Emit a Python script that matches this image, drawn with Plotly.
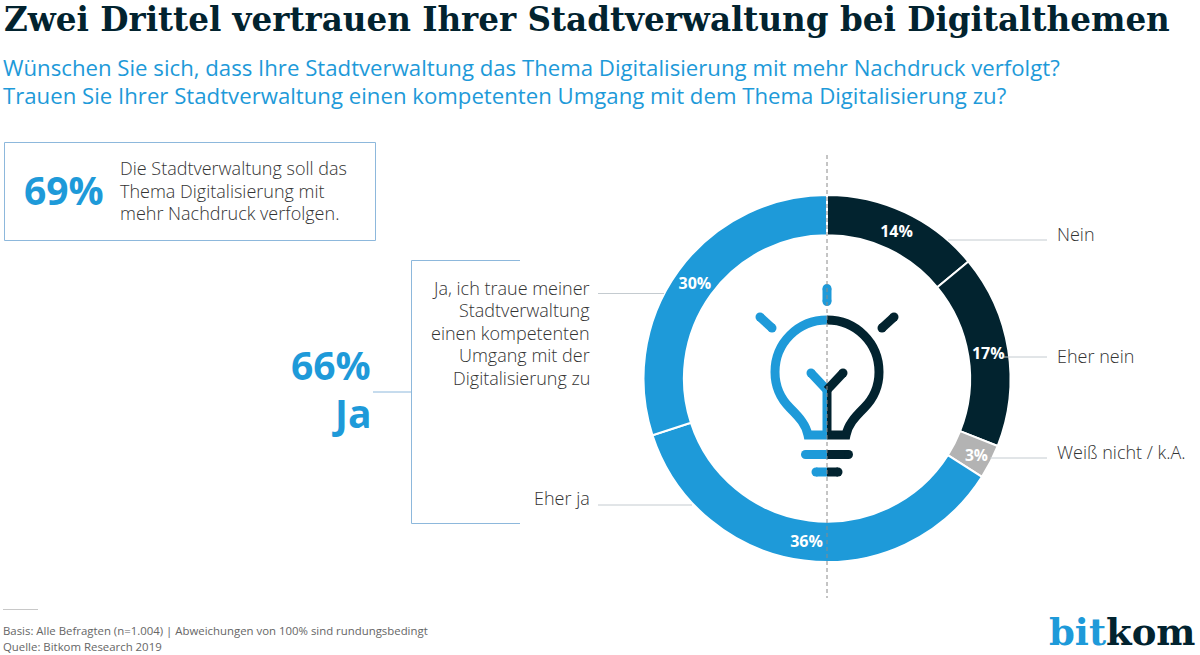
"""Bitkom donut chart: trust in city administration on digital topics"""
import plotly.graph_objects as go

# data
answers = ['Nein', 'Eher nein', 'Weiß nicht / k.A.', 'Eher ja', 'Ja, ich traue meiner Stadtverwaltung']
shares = [14, 17, 3, 36, 30]

BLUE = '#1e9ad9'
DARK = '#02232f'
GREY = '#b3b3b3'
LINE = '#c4cbd0'
TEXT = '#333333'
FRAME = '#8db8dc'
SANS = 'Open Sans'
SLAB = 'DejaVu Serif'

slice_colors = [DARK, DARK, GREY, BLUE, BLUE]

fig = go.Figure()

# Donut, placed to the pixel through its domain
fig.add_trace(go.Pie(labels=answers, values=shares, hole=0.78, sort=False, direction='clockwise',
                     rotation=0, domain=dict(x=[643 / 1200, 1011 / 1200], y=[93 / 655, 460 / 655]),
                     marker=dict(colors=slice_colors, line=dict(color='white', width=2)),
                     text=[f'{v}%' for v in shares], textinfo='text', textposition='inside',
                     insidetextorientation='horizontal',
                     insidetextfont=dict(family=SANS, size=16, color='white', weight='bold'),
                     hoverinfo='label+percent', showlegend=False))

shapes = []


def line(x0, y0, x1, y1, color=LINE, width=1, dash=None):
    shapes.append(dict(type='line', x0=x0, y0=y0, x1=x1, y1=y1, layer='above',
                       line=dict(color=color, width=width, dash=dash)))


def dot(x, y, r, color):
    shapes.append(dict(type='circle', x0=x - r, y0=y - r, x1=x + r, y1=y + r, layer='above',
                       fillcolor=color, line=dict(width=0)))


def round_line(x0, y0, x1, y1, color, width=9, caps=(True, True)):
    # shapes have no round line caps, so the ends get circles
    line(x0, y0, x1, y1, color, width)
    if caps[0]:
        dot(x0, y0, width / 2, color)
    if caps[1]:
        dot(x1, y1, width / 2, color)


def bulb_half(side, color):
    # side is -1 for the left half, 1 for the right one
    x = lambda d: 827 + side * d
    path = (f'M{x(0)},320 C{x(29)},320 {x(52)},343 {x(52)},372 '
            f'C{x(52)},388 {x(45)},400 {x(37)},408 '
            f'C{x(27)},418 {x(21)},425 {x(19)},435 L{x(0)},435')
    shapes.append(dict(type='path', path=path, layer='above', line=dict(color=color, width=9)))
    line(x(2.25), 384, x(2.25), 435, color, 4.5)
    round_line(x(0), 390, x(16), 373, color, caps=(False, True))
    round_line(x(0), 454.5, x(21.5), 454.5, color, caps=(False, True))
    round_line(x(0), 472, x(11), 472, color, caps=(False, True))
    round_line(x(67), 317, x(55), 328, color)


# Frame of the 69% box
shapes.append(dict(type='rect', x0=4.5, y0=142.5, x1=375.5, y1=240.5, line=dict(color=FRAME, width=1)))

# Bracket around the "Ja" answers
line(520, 260.5, 411.5, 260.5, FRAME)
line(411.5, 260.5, 411.5, 523.5, FRAME)
line(411.5, 523.5, 520, 523.5, FRAME)
line(373, 392, 411.5, 392, FRAME)

# Leader lines
line(598, 293.5, 664, 293.5)
line(598, 505, 692, 505)
line(948, 240, 1047, 240)
line(1004, 357, 1047, 357)
line(990, 458, 1047, 458)

# Light bulb
bulb_half(-1, BLUE)
bulb_half(1, DARK)
round_line(827, 288.5, 827, 301.5, BLUE)

# Centre line
line(827, 155, 827, 598, '#8a8a8a', 1, '4px,3px')

# Footer rule
line(3, 609.5, 38, 609.5, '#c8c8c8')

BODY = dict(family=SANS, size=18, color=TEXT, weight=300)
SUB = dict(family=SANS, size=22.2, color=BLUE)
BIG = dict(family=SANS, size=39, color=BLUE, weight='bold')
FOOT = dict(family=SANS, size=11.4, color='#666666')

texts = [
    (2, 19, 'Zwei Drittel vertrauen Ihrer Stadtverwaltung bei Digitalthemen', 'left', dict(family=SLAB, size=32.6, color=DARK, weight='bold')),
    (1, 67, 'Wünschen Sie sich, dass Ihre Stadtverwaltung das Thema Digitalisierung mit mehr Nachdruck verfolgt?', 'left', SUB),
    (1, 95, 'Trauen Sie Ihrer Stadtverwaltung einen kompetenten Umgang mit dem Thema Digitalisierung zu?', 'left', SUB),
    (22, 189, '69%', 'left', BIG),
    (118, 168, 'Die Stadtverwaltung soll das', 'left', BODY),
    (118, 191, 'Thema Digitalisierung mit', 'left', BODY),
    (118, 213, 'mehr Nachdruck verfolgen.', 'left', BODY),
    (373, 364, '66%', 'right', BIG),
    (373, 412, 'Ja', 'right', BIG),
    (592, 288, 'Ja, ich traue meiner', 'right', BODY),
    (592, 310, 'Stadtverwaltung', 'right', BODY),
    (592, 333, 'einen kompetenten', 'right', BODY),
    (592, 355, 'Umgang mit der', 'right', BODY),
    (592, 378, 'Digitalisierung zu', 'right', BODY),
    (592, 498, 'Eher ja', 'right', BODY),
    (1055, 234, 'Nein', 'left', BODY),
    (1055, 356, 'Eher nein', 'left', BODY),
    (1055, 452, 'Weiß nicht / k.A.', 'left', BODY),
    (1, 630, 'Basis: Alle Befragten (n=1.004) | Abweichungen von 100% sind rundungsbedingt', 'left', FOOT),
    (1, 646, 'Quelle: Bitkom Research 2019', 'left', FOOT),
    (1198, 632, f'<span style="color:{BLUE}">bit</span>kom', 'right', dict(family=SLAB, size=37, color=DARK, weight='bold')),
]

annotations = [dict(x=x, y=y, text=t, xanchor=a, yanchor='middle', showarrow=False, font=f, xref='x', yref='y')
               for x, y, t, a, f in texts]

fig.update_layout(width=1200, height=655, margin=dict(l=0, r=0, t=0, b=0), autosize=False,
                  paper_bgcolor='white', plot_bgcolor='rgba(0,0,0,0)', showlegend=False,
                  xaxis=dict(range=[0, 1200], visible=False, fixedrange=True),
                  yaxis=dict(range=[655, 0], visible=False, fixedrange=True),
                  shapes=shapes, annotations=annotations)

fig.write_html("out.html", config=dict(displayModeBar=False), post_script="document.body.style.margin='0';")
